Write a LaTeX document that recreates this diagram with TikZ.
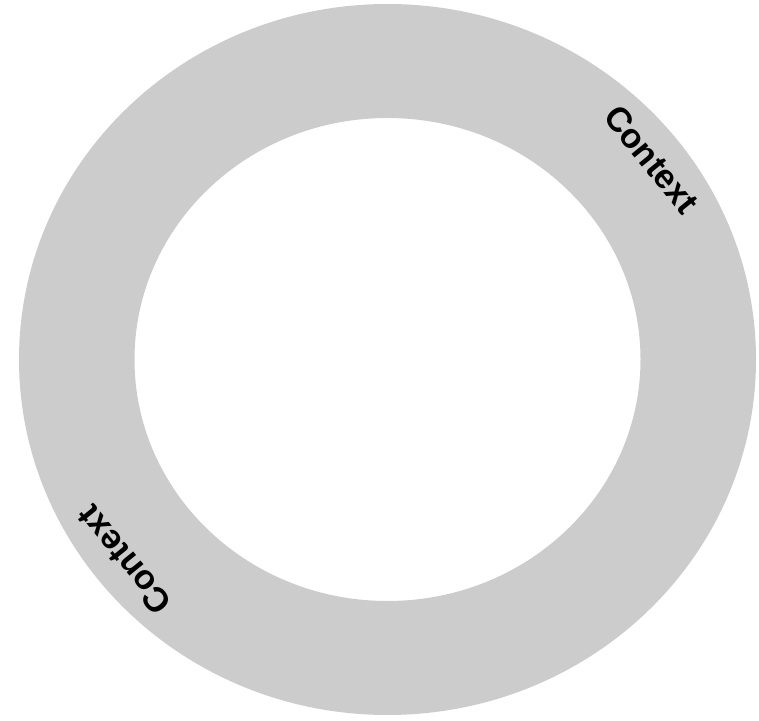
\documentclass[tikz,border=0pt]{standalone}
\usepackage{fontspec}
\setsansfont{Liberation Sans}
\usepackage{tikz}
\usetikzlibrary{positioning}
\definecolor{RingGray}{RGB}{204,204,204}
\tikzset{
  anel/.style={fill=RingGray, even odd rule},
  rotulo/.style={font=\sffamily\bfseries\fontsize{19.5}{19.5}\selectfont, text=black, inner sep=0pt},
}
\begin{document}
\begin{tikzpicture}
  \useasboundingbox (0,0) rectangle (15.18,14.4);

  % Centro
  \coordinate (centro) at (7.75,7.21);

  % Anel
  \fill[anel] (centro) ellipse [x radius=7.37cm, y radius=7.11cm]
              (centro) ellipse [x radius=5.06cm, y radius=4.83cm];

  % Rotulos
  \node[rotulo, rotate=-51] (ctxA) at (13.03,11.21) {Context};
  \node[rotulo, rotate=129] (ctxB) at (2.49,3.2) {Context};
\end{tikzpicture}
\end{document}
